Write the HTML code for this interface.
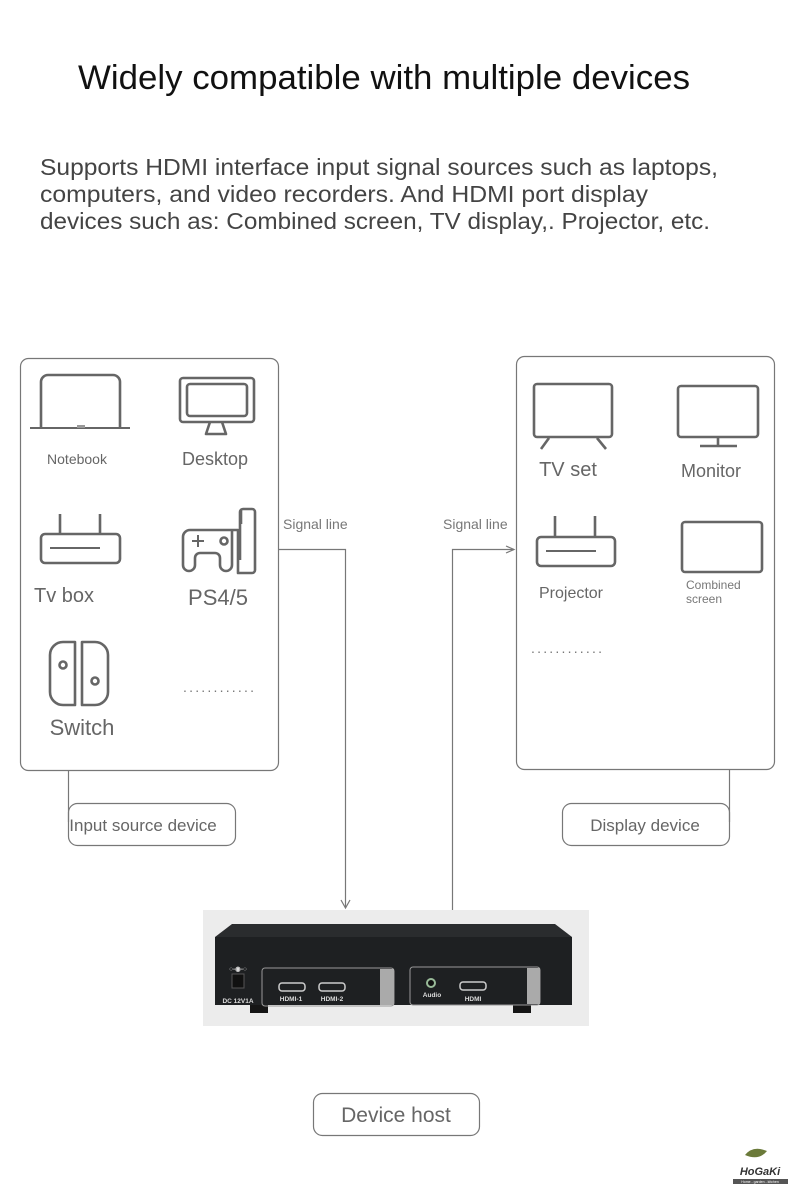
<!DOCTYPE html>
<html><head><meta charset="utf-8"><style>
html,body{margin:0;padding:0;background:#fff;}
svg{display:block;font-family:"Liberation Sans",sans-serif;}
</style></head><body>
<svg width="790" height="1198" viewBox="0 0 790 1198" xmlns="http://www.w3.org/2000/svg">
<text x="78" y="89" font-size="34" fill="#111" textLength="612" lengthAdjust="spacingAndGlyphs">Widely compatible with multiple devices</text>
<g font-size="23" fill="#444">
<text x="40" y="175" textLength="678" lengthAdjust="spacingAndGlyphs">Supports HDMI interface input signal sources such as laptops,</text>
<text x="40" y="202" textLength="608" lengthAdjust="spacingAndGlyphs">computers, and video recorders. And HDMI port display</text>
<text x="40" y="229" textLength="670" lengthAdjust="spacingAndGlyphs">devices such as: Combined screen, TV display,. Projector, etc.</text>
</g>
<!-- boxes -->
<g fill="none" stroke="#777" stroke-width="1.2">
<rect x="20.5" y="358.5" width="258" height="412" rx="8"/>
<rect x="516.5" y="356.5" width="258" height="413" rx="8"/>
<rect x="68.5" y="803.5" width="167" height="42" rx="9"/>
<rect x="562.5" y="803.5" width="167" height="42" rx="9"/>
<rect x="313.5" y="1093.5" width="166" height="42" rx="9"/>
<line x1="68.5" y1="771" x2="68.5" y2="822"/>
<line x1="729.5" y1="770" x2="729.5" y2="822"/>
<polyline points="279,549.5 345.5,549.5 345.5,908"/>
<polyline points="452.5,910 452.5,549.5 514,549.5"/>
<polyline points="341,900 345.5,908 350,900" />
<polyline points="506,546 514,549.5 506,553"/>
</g>
<g font-size="17" fill="#666" text-anchor="middle">
<text x="143" y="831">Input source device</text>
<text x="645" y="831">Display device</text>
<text x="396" y="1122" font-size="21">Device host</text>
</g>
<g font-size="14" fill="#777"><text x="283" y="529">Signal line</text><text x="443" y="529">Signal line</text></g>
<!-- left icons -->
<g fill="none" stroke="#666" stroke-width="2.6" stroke-linejoin="round">
<path d="M41,428 V382 a7,7 0 0 1 7,-7 H113 a7,7 0 0 1 7,7 V428"/>
<line x1="30" y1="428" x2="130" y2="428" stroke-width="2"/>
<rect x="180" y="378" width="74" height="44" rx="3"/>
<rect x="187" y="384" width="60" height="32" rx="3"/>
<path d="M210,422 L206,434 H226 L222,422"/>
<line x1="60" y1="514" x2="60" y2="534"/><line x1="100" y1="514" x2="100" y2="534"/>
<rect x="41" y="534" width="79" height="29" rx="4"/>
<line x1="50" y1="548" x2="100" y2="548" stroke-width="2"/>
<path d="M240,560 V512 a3,3 0 0 1 3,-3 H252 a3,3 0 0 1 3,3 V570 a3,3 0 0 1 -3,3 H238 V530 H190 a7,7 0 0 0 -7,7 V565 a6,6 0 0 0 12,0 V558 a5,5 0 0 1 5,-5 H215 a5,5 0 0 1 5,5 V565 a6,6 0 0 0 12,0 V530"/>
<line x1="241" y1="510" x2="241" y2="524"/>
<circle cx="224" cy="541" r="3.5"/>
<path d="M192,541 H204 M198,535 V547" stroke-width="2"/>
<path d="M75,642 H63 a13,13 0 0 0 -13,13 V692 a13,13 0 0 0 13,13 H75 Z"/>
<path d="M82,642 H95 a13,13 0 0 1 13,13 V692 a13,13 0 0 1 -13,13 H82 Z"/>
<circle cx="63" cy="665" r="3.5"/><circle cx="95" cy="681" r="3.5"/>
</g>
<rect x="77" y="425" width="8" height="3" fill="#999"/>
<g fill="#666" text-anchor="middle">
<text x="77" y="464" font-size="14">Notebook</text>
<text x="215" y="465" font-size="18">Desktop</text>
<text x="64" y="602" font-size="20">Tv box</text>
<text x="218" y="605" font-size="22">PS4/5</text>
<text x="82" y="735" font-size="22">Switch</text>
</g>
<text x="183" y="692" font-size="14" fill="#777" textLength="71" lengthAdjust="spacing">............</text>
<!-- right icons -->
<g fill="none" stroke="#666" stroke-width="2.6" stroke-linejoin="round">
<rect x="534" y="384" width="78" height="53" rx="3"/>
<line x1="549" y1="438" x2="541" y2="449"/><line x1="597" y1="438" x2="606" y2="449"/>
<rect x="678" y="386" width="80" height="51" rx="3"/>
<line x1="718" y1="437" x2="718" y2="445"/><line x1="700" y1="446" x2="737" y2="446"/>
<line x1="555" y1="516" x2="555" y2="537"/><line x1="595" y1="516" x2="595" y2="537"/>
<rect x="537" y="537" width="78" height="29" rx="4"/>
<line x1="546" y1="551" x2="596" y2="551" stroke-width="2"/>
<rect x="682" y="522" width="80" height="50" rx="3"/>
</g>
<g fill="#666" text-anchor="middle">
<text x="568" y="476" font-size="20">TV set</text>
<text x="711" y="477" font-size="18">Monitor</text>
<text x="571" y="598" font-size="16">Projector</text>
</g>
<text x="686" y="589" font-size="12" fill="#777">Combined</text>
<text x="686" y="603" font-size="12" fill="#777">screen</text>
<text x="531" y="653" font-size="14" fill="#777" textLength="71" lengthAdjust="spacing">............</text>
<!-- device -->
<rect x="203" y="910" width="386" height="116" fill="#ececec"/>
<path d="M232,924 H555 L572,937 V1005 H215 V937 Z" fill="#2a2c2e"/>
<rect x="215" y="937" width="357" height="68" fill="#1e2022"/>
<rect x="250" y="1005" width="18" height="8" fill="#151515"/><rect x="513" y="1005" width="18" height="8" fill="#151515"/>
<g fill="none" stroke="#999" stroke-width="1">
<rect x="262" y="968" width="132" height="38" rx="3"/>
<rect x="410" y="967" width="130" height="38" rx="3"/>
</g>
<rect x="380" y="969" width="14" height="36" fill="#aaa"/>
<rect x="527" y="968" width="13" height="36" fill="#aaa"/>
<rect x="232" y="974" width="12" height="14" fill="#111" stroke="#555"/>
<g fill="none" stroke="#ccc" stroke-width="1.5">
<rect x="279" y="983" width="26" height="8" rx="3"/><rect x="319" y="983" width="26" height="8" rx="3"/>
<rect x="460" y="982" width="26" height="8" rx="3"/>
</g>
<circle cx="431" cy="983" r="4" fill="#111" stroke="#9b9" stroke-width="2"/>
<g fill="#ddd" font-size="6.5" font-weight="bold" text-anchor="middle">
<text x="238" y="1003">DC 12V1A</text><text x="238" y="971">○-◉-○</text>
<text x="291" y="1001">HDMI-1</text><text x="332" y="1001">HDMI-2</text>
<text x="432" y="997">Audio</text><text x="473" y="1001">HDMI</text>
</g>
<!-- logo -->
<path d="M745,1155 q8,-10 22,-4 q-8,10 -22,4z" fill="#6b7a3a"/>
<text x="760" y="1175" font-size="11" font-style="italic" font-weight="bold" fill="#333" text-anchor="middle">HoGaKi</text>
<rect x="733" y="1179" width="55" height="5" fill="#555"/>
<text x="760" y="1183" font-size="3.5" fill="#fff" text-anchor="middle">Home - garden - kitchen</text>
</svg>
</body></html>
